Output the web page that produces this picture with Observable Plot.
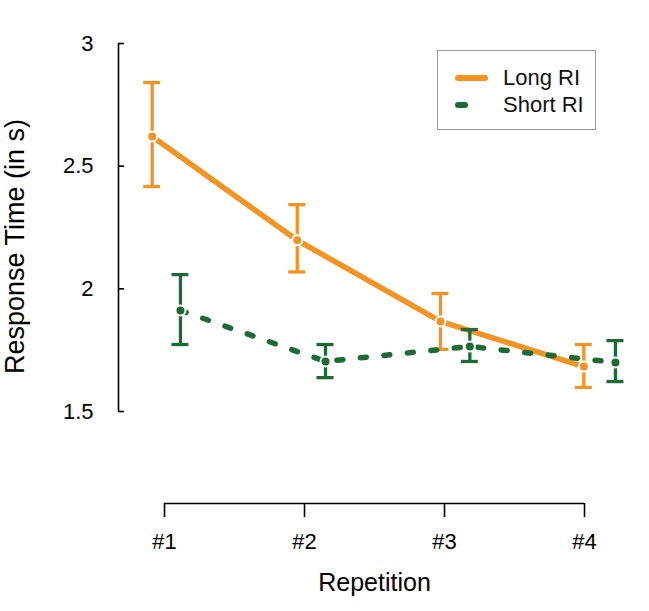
<!DOCTYPE html>
<html>
<head>
<meta charset="utf-8">
<script src="https://cdn.jsdelivr.net/npm/d3@7"></script>
<script src="https://cdn.jsdelivr.net/npm/@observablehq/plot@0.6"></script>
<style>
  html, body { margin: 0; padding: 0; background: #fff; }
  #wrap { position: relative; width: 649px; height: 611px; font-family: "Liberation Sans", Arial, sans-serif; }
  #legend { position: absolute; left: 437px; top: 50px; width: 157px; height: 78px; border: 1.5px solid #9a9a9a; background: #fff; }
  #legend .item { position: absolute; left: 0; height: 28px; width: 157px; }
  #legend svg { position: absolute; left: 0; top: 0; }
  #legend span { position: absolute; left: 65px; font-size: 22px; line-height: 28px; color: #111; }
</style>
</head>
<body>
<div id="wrap"></div>
<script>
// ---- data ----
const repetitions = ["#1", "#2", "#3", "#4"];
const tickPos = [1, 2, 3, 4];
const yTicks = [1.5, 2, 2.5, 3];
const yTickLabels = ["1.5", "2", "2.5", "3"];
const seriesNames = ["Long RI", "Short RI"];

const longX    = [0.912, 1.948, 2.971, 3.995];
const longMean = [2.621, 2.198, 1.867, 1.683];
const longLo   = [2.417, 2.069, 1.753, 1.598];
const longHi   = [2.841, 2.343, 1.981, 1.773];

const shortX    = [1.114, 2.150, 3.181, 4.221];
const shortMean = [1.912, 1.704, 1.765, 1.700];
const shortLo   = [1.773, 1.638, 1.704, 1.622];
const shortHi   = [2.058, 1.773, 1.834, 1.789];

const orange = "#f39322";
const green = "#1d6a36";

const longRows = repetitions.map((r, i) => ({rep: r, x: longX[i], y: longMean[i], lo: longLo[i], hi: longHi[i]}));
const shortRows = repetitions.map((r, i) => ({rep: r, x: shortX[i], y: shortMean[i], lo: shortLo[i], hi: shortHi[i]}));

function seriesMarks(rows, color, dash) {
  return [
    Plot.line(rows, {x: "x", y: "y", stroke: color, strokeWidth: 5.5, strokeLinecap: "round", strokeLinejoin: "round", strokeDasharray: dash}),
    Plot.ruleX(rows, {x: "x", y1: "lo", y2: "hi", stroke: color, strokeWidth: 3.3}),
    Plot.ruleY(rows, {y: "hi", x1: "x", x2: "x", insetLeft: -8.5, insetRight: -8.5, stroke: color, strokeWidth: 3.3}),
    Plot.ruleY(rows, {y: "lo", x1: "x", x2: "x", insetLeft: -8.5, insetRight: -8.5, stroke: color, strokeWidth: 3.3}),
    Plot.dot(rows, {x: "x", y: "y", r: 5, fill: color, stroke: "white", strokeWidth: 2})
  ];
}

const chart = Plot.plot({
  width: 649,
  height: 611,
  marginLeft: 118,
  marginRight: 19,
  marginTop: 43,
  marginBottom: 108,
  style: {fontFamily: "Liberation Sans, Arial, sans-serif", color: "#000", background: "#fff", overflow: "visible"},
  x: {type: "linear", domain: [tickPos[0], tickPos[3]], range: [164, 584]},
  y: {domain: [yTicks[0], yTicks[3]], range: [411, 43]},
  marks: [
    // y axis line and inward ticks
    Plot.ruleX([tickPos[0]], {y1: yTicks[0], y2: yTicks[3], dx: -46, stroke: "#000", strokeWidth: 1.6}),
    Plot.ruleY(yTicks, {y: d => d, insetRight: 506, stroke: "#000", strokeWidth: 1.6}),
    Plot.axisY({ticks: yTicks, tickSize: 0, tickPadding: 25, fontSize: 22, tickFormat: d => yTickLabels[yTicks.indexOf(d)], label: null}),
    // x axis line and ticks
    Plot.ruleY([yTicks[0]], {x1: tickPos[0], x2: tickPos[3], dy: 92, stroke: "#000", strokeWidth: 1.6}),
    Plot.axisX({ticks: tickPos, tickSize: 14, tickPadding: 16, strokeWidth: 1.6, fontSize: 22, tickFormat: d => repetitions[tickPos.indexOf(d)], label: null}),
    // axis titles
    Plot.text(["Response Time (in s)"], {text: d => d, frameAnchor: "left", textAnchor: "middle", lineAnchor: "middle", dx: -103, dy: -27, rotate: -90, fontSize: 27, fill: "#000"}),
    Plot.text(["Repetition"], {text: d => d, frameAnchor: "bottom", textAnchor: "middle", lineAnchor: "middle", dy: 79, fontSize: 25, fill: "#000"}),
    // series
    ...seriesMarks(longRows, orange, null),
    ...seriesMarks(shortRows, green, "6,17.6")
  ]
});

const wrap = document.getElementById("wrap");
wrap.appendChild(chart);

// legend
const legend = document.createElement("div");
legend.id = "legend";
legend.innerHTML = `
  <div class="item" style="top:13px">
    <svg width="60" height="28"><line x1="20" y1="14" x2="47" y2="14" stroke="${orange}" stroke-width="6" stroke-linecap="round"/></svg>
    <span>${seriesNames[0]}</span>
  </div>
  <div class="item" style="top:40px">
    <svg width="60" height="28"><line x1="20" y1="14" x2="27" y2="14" stroke="${green}" stroke-width="6" stroke-linecap="round"/></svg>
    <span>${seriesNames[1]}</span>
  </div>`;
wrap.appendChild(legend);
</script>
</body>
</html>
